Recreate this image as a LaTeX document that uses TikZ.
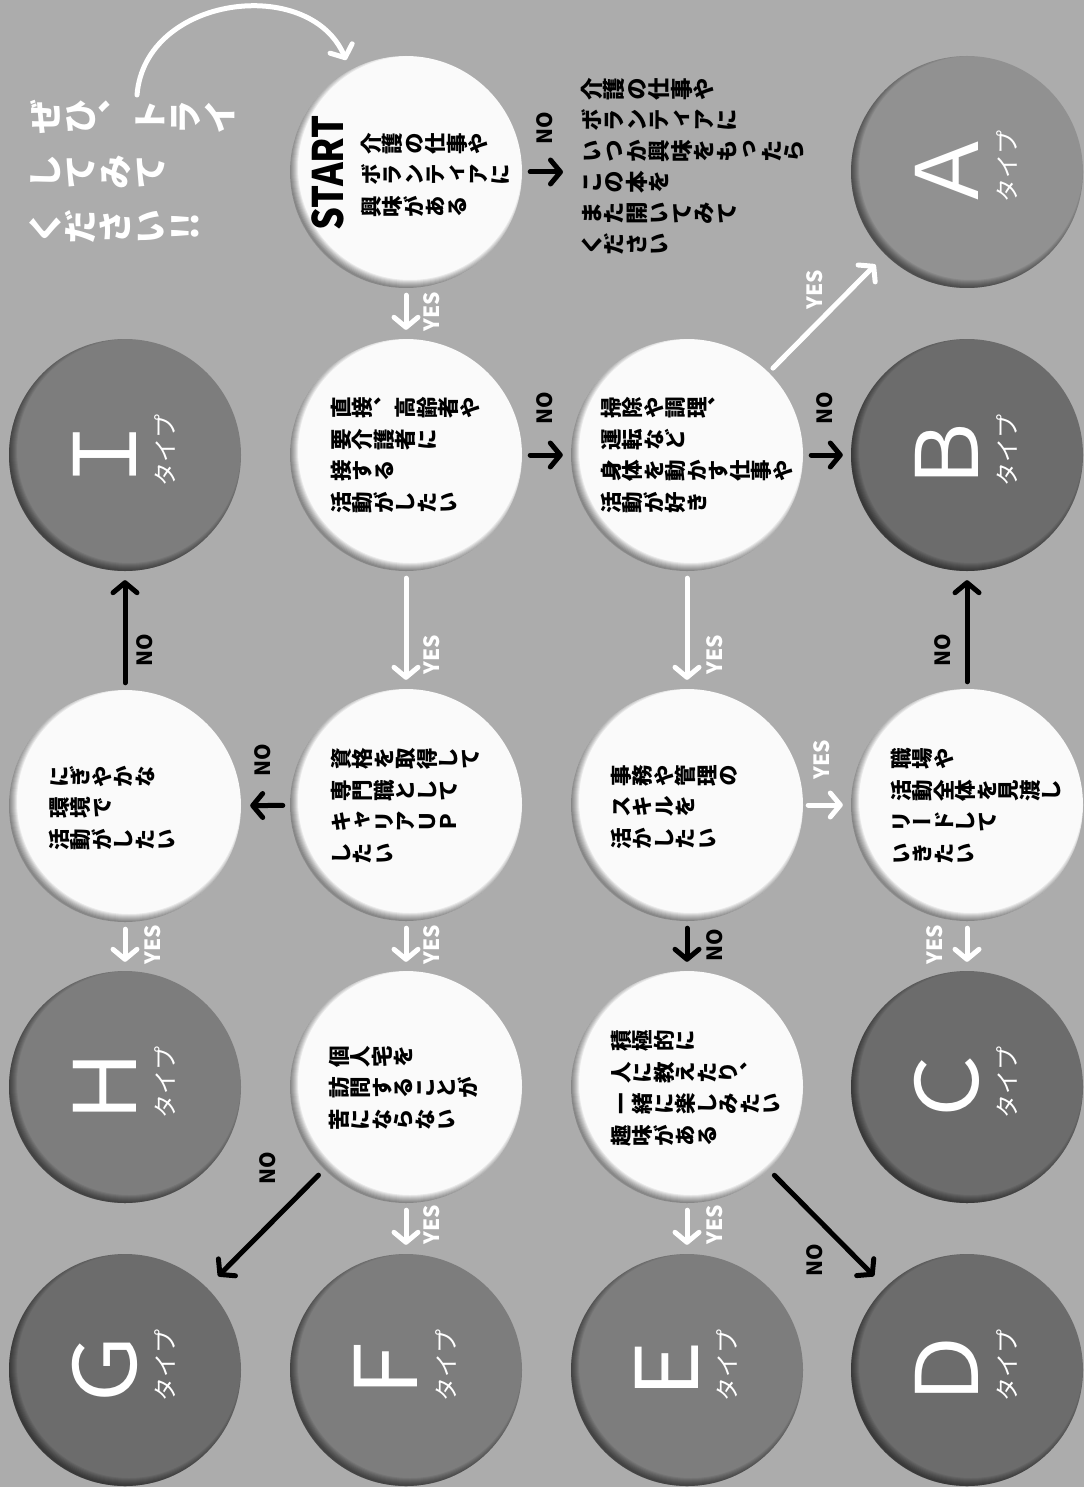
\documentclass[tikz,border=0pt]{standalone}
\usepackage{fontspec}
\usepackage{graphicx}
\setmainfont{Noto Sans CJK JP}
\newfontfamily\jp{Noto Sans CJK JP}
\newfontfamily\jpv[Vertical=RotatedGlyphs]{Noto Sans CJK JP}
\usetikzlibrary{arrows.meta}
\definecolor{bg}{HTML}{ACACAC}
\definecolor{wcirc}{HTML}{FAFAFA}
\definecolor{cLight}{HTML}{919191}
\definecolor{cDark}{HTML}{6C6C6C}
\definecolor{cMid}{HTML}{7D7D7D}
% one character, vertical form, turned a quarter turn counter-clockwise in its em square
\newcommand\rotone[1]{\rotatebox[origin=c]{90}{\hbox to 1em{\hss\vrule height .88em depth .12em width 0pt\relax #1\hss}}}
\ExplSyntaxOn
\NewDocumentCommand \rr { m } { \tl_map_inline:nn {#1} { \rotone {##1} } }
\ExplSyntaxOff
\tikzset{
  ball/.style={circle, minimum size=232pt, inner sep=0pt},
  qtext/.style={font=\jpv\bfseries\fontsize{21.5}{31.5}\selectfont, align=left, anchor=west, inner sep=0pt, text=black},
  trytext/.style={font=\jpv\bfseries\fontsize{35}{55}\selectfont, align=left, anchor=west, inner sep=0pt, text=white},
  startlab/.style={font=\jp\bfseries\fontsize{42}{42}\selectfont, text=black, rotate=90, inner sep=0pt},
  typeletter/.style={font=\jp\fontsize{86}{86}\selectfont, text=white, rotate=90, inner sep=0pt},
  typeword/.style={font=\jp\fontsize{24}{24}\selectfont, text=white, rotate=90, inner sep=0pt},
  nolab/.style={font=\jp\bfseries\fontsize{21}{21}\selectfont, text=black, rotate=90, inner sep=0pt},
  yeslab/.style={font=\jp\bfseries\fontsize{21}{21}\selectfont, text=white, rotate=90, inner sep=0pt},
  noarrow/.style={draw=black, line width=5pt, line cap=round, line join=round, -{Straight Barb[length=10pt,width=24pt,round]}},
  yesarrow/.style={draw=white, line width=5pt, line cap=round, line join=round, -{Straight Barb[length=10pt,width=24pt,round]}},
}
\newcommand\mkball[4]{%
  \node[ball, fill=#4] (#1) at (#2,#3) {};
  \begin{scope}
    \clip (#2,#3) circle[radius=116pt];
    \foreach \k in {1,...,8}{\draw[black, opacity=0.07, line width={2pt*\k}] (#2+4,#3-4) circle[radius=120pt];}
  \end{scope}}
\begin{document}
\begin{tikzpicture}[x=1pt,y=-1pt]
\fill[bg] (0,0) rectangle (1084,1487);
\useasboundingbox (0,0) rectangle (1084,1487);

% question circles
\mkball{start}{406}{172}{wcirc}
\mkball{q2}{406}{455}{wcirc}
\mkball{q3}{687}{455}{wcirc}
\mkball{q4}{406}{805}{wcirc}
\mkball{q5}{125}{806}{wcirc}
\mkball{q6}{687}{805}{wcirc}
\mkball{q7}{967}{805}{wcirc}
\mkball{q8}{406}{1087}{wcirc}
\mkball{q9}{687}{1087}{wcirc}
% type circles
\mkball{tA}{967}{172}{cLight}
\mkball{tB}{967}{455}{cDark}
\mkball{tC}{967}{1087}{cDark}
\mkball{tD}{967}{1370}{cDark}
\mkball{tE}{687}{1370}{cMid}
\mkball{tF}{406}{1370}{cMid}
\mkball{tG}{125}{1370}{cDark}
\mkball{tH}{125}{1087}{cMid}
\mkball{tI}{125}{455}{cMid}

% type labels
\foreach \n/\L/\x/\y in {A/Ａ/967/172,B/Ｂ/967/455,C/Ｃ/967/1087,D/Ｄ/967/1370,E/Ｅ/687/1370,F/Ｆ/406/1370,G/Ｇ/125/1370,H/Ｈ/125/1087,I/Ｉ/125/455}{
  \node[typeletter] (l\n) at (\x-20,\y-1) {\L};
  \node[typeword] (w\n) at (\x+40,\y-5) {タイプ};
}

% texts
\node[trytext] (try) at (27,172) {\rr{ぜひ、トライ}\\\rr{してみて}\\\rr{ください{!!}}};
\node[startlab] (starttxt) at (328,173) {\scalebox{0.86}[1]{START}};
\node[qtext] (t1) at (360,175) {\rr{介護の仕事や}\\\rr{ボランティアに}\\\rr{興味がある}};
\node[qtext, font=\jpv\bfseries\fontsize{22.5}{31}\selectfont] (notext) at (580,167) {\rr{介護の仕事や}\\\rr{ボランティアに}\\\rr{いつか興味をもったら}\\\rr{この本を}\\\rr{また開いてみて}\\\rr{ください}};
\node[qtext] (t2) at (330,455) {\rr{直接、高齢者や}\\\rr{要介護者に}\\\rr{接する}\\\rr{活動がしたい}};
\node[qtext] (t3) at (600,455) {\rr{掃除や調理、}\\\rr{運転など}\\\rr{身体を動かす仕事や}\\\rr{活動が好き}};
\node[qtext] (t4) at (330,806) {\rr{資格を取得して}\\\rr{専門職として}\\\rr{キャリアＵＰ}\\\rr{したい}};
\node[qtext] (t5) at (48,808) {\rr{にぎやかな}\\\rr{環境で}\\\rr{活動がしたい}};
\node[qtext] (t6) at (610,807) {\rr{事務や管理の}\\\rr{スキルを}\\\rr{活かしたい}};
\node[qtext] (t7) at (890,806) {\rr{職場や}\\\rr{活動全体を見渡し}\\\rr{リードして}\\\rr{いきたい}};
\node[qtext] (t8) at (328,1088) {\rr{個人宅を}\\\rr{訪問することが}\\\rr{苦にならない}};
\node[qtext] (t9) at (610,1088) {\rr{積極的に}\\\rr{人に教えたり、}\\\rr{一緒に楽しみたい}\\\rr{趣味がある}};

% curved arrow
\coordinate (cs) at (137,95);
\coordinate (ce) at (346,60);
\draw[yesarrow] (cs) .. controls (145,-5) and (310,-25) .. (ce);

% connectors
\draw[noarrow, shorten <=8pt, shorten >=17pt] (start.east) -- (start.east -| notext.west);
\draw[yesarrow, shorten <=7pt, shorten >=9pt] (start) -- (q2);
\draw[noarrow, shorten <=8pt, shorten >=8pt] (q2) -- (q3);
\draw[noarrow, shorten <=8pt, shorten >=8pt] (q3) -- (tB);
\draw[yesarrow, shorten <=6pt, shorten >=14pt] (q3) -- (tA);
\draw[yesarrow, shorten <=7pt, shorten >=9pt] (q2) -- (q4);
\draw[yesarrow, shorten <=7pt, shorten >=9pt] (q3) -- (q6);
\draw[noarrow, shorten <=7pt, shorten >=9pt] (q4) -- (q5);
\draw[yesarrow, shorten <=7pt, shorten >=9pt] (q4) -- (q8);
\draw[noarrow, shorten <=7pt, shorten >=9pt] (q5) -- (tI);
\draw[yesarrow, shorten <=7pt, shorten >=9pt] (q5) -- (tH);
\draw[yesarrow, shorten <=5pt, shorten >=8pt] (q6) -- (q7);
\draw[noarrow, shorten <=7pt, shorten >=9pt] (q6) -- (q9);
\draw[noarrow, shorten <=7pt, shorten >=9pt] (q7) -- (tB);
\draw[yesarrow, shorten <=7pt, shorten >=9pt] (q7) -- (tC);
\draw[yesarrow, shorten <=7pt, shorten >=9pt] (q8) -- (tF);
\draw[noarrow, shorten <=8pt, shorten >=16pt] (q8) -- (tG);
\draw[yesarrow, shorten <=7pt, shorten >=9pt] (q9) -- (tE);
\draw[noarrow, shorten <=8pt, shorten >=16pt] (q9) -- (tD);

% labels
\node[nolab] (n1) at (545,128) {NO};
\node[yeslab] (y1) at (432,312) {YES};
\node[nolab] (n2) at (545,408) {NO};
\node[nolab] (n3) at (825,408) {NO};
\node[yeslab] (y3a) at (815,290) {YES};
\node[yeslab] (y2) at (432,655) {YES};
\node[yeslab] (y3) at (715,655) {YES};
\node[nolab] (n4) at (263,760) {NO};
\node[yeslab] (y4) at (432,945) {YES};
\node[nolab] (n5) at (145,650) {NO};
\node[yeslab] (y5) at (153,945) {YES};
\node[yeslab] (y6) at (822,760) {YES};
\node[nolab] (n6) at (715,945) {NO};
\node[nolab] (n7) at (943,650) {NO};
\node[yeslab] (y7) at (935,945) {YES};
\node[yeslab] (y8) at (432,1225) {YES};
\node[nolab] (n8) at (268,1168) {NO};
\node[yeslab] (y9) at (715,1225) {YES};
\node[nolab] (n9) at (815,1260) {NO};
\end{tikzpicture}
\end{document}
